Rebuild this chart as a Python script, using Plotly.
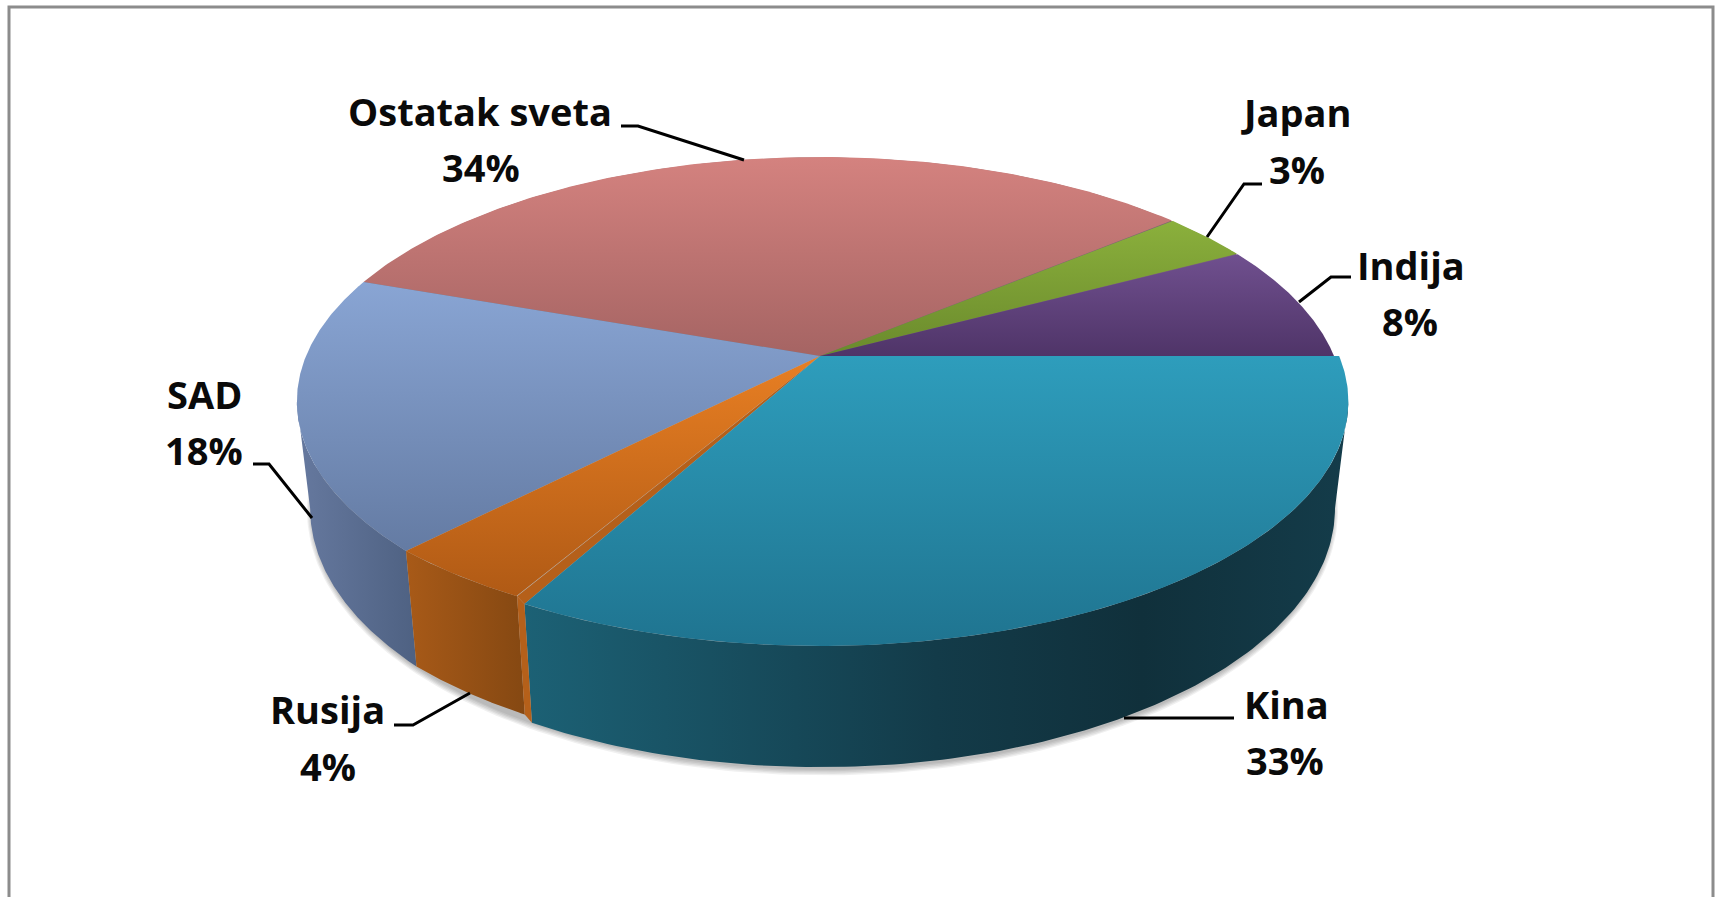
import numpy as np
import plotly.graph_objects as go

# ---- data ----
categories = ["Kina", "Rusija", "SAD", "Ostatak sveta", "Japan", "Indija"]
values = [32.9, 4.4, 18.1, 33.5, 3.3, 7.8]

# ---- colours ----
top_light = ["#2E9DBC", "#E87F23", "#89A5D4", "#D4827F", "#8BB03C", "#70508F"]
top_dark = ["#1F7490", "#B05A15", "#647BA3", "#A56463", "#6A8A2C", "#4F3468"]
wall_kina = [[0, "#1C6175"], [0.5, "#133B49"], [0.75, "#10303B"], [1, "#143C4A"]]
wall_rusija = [[0, "#A85A18"], [1, "#854812"]]
wall_sad = [[0, "#66799F"], [1, "#4E6182"]]
strip_colour = "#B5601A"
disc_under = "#7A6A70"

# ---- projection of the tilted disc onto the page ----
CX, CY_TOP, CY_BOT = 820, 356, 460
R_TOP, H_TOP = 514, 236
R_BOT, H_BOT = 501, 250
K = 0.186
KINA_SX = 1.01
RUSIJA_GAP = 0.45
RUSIJA_R = 0.987
WALL_LIMIT = np.degrees(np.arcsin(K)) / 3.6  # percent at which the rim turns away


def proj(p, plane="top", sx=1.0, sy=1.0):
    """Percent around the pie -> page position."""
    th = -np.asarray(p, float) * 3.6 * np.pi / 180
    s = 1 / (1 + K * np.sin(th))
    if plane == "top":
        return CX + R_TOP * sx * np.cos(th) * s, CY_TOP - H_TOP * sy * np.sin(th) * s
    return CX + R_BOT * sx * np.cos(th) * s, CY_BOT - H_BOT * sy * np.sin(th) * s


total = sum(values)
pct = [v / total * 100 for v in values]
ends = np.cumsum(pct)
starts = np.concatenate([[0], ends[:-1]])

fig = go.Figure()


def poly(x, y, orient, scale, name):
    x, y = np.asarray(x), np.asarray(y)
    rng = (y.min(), y.max()) if orient == "vertical" else (x.min(), x.max())
    fig.add_trace(go.Scatter(
        x=x, y=y, mode="lines", fill="toself", name=name, line=dict(width=0),
        fillgradient=dict(type=orient, colorscale=scale, start=rng[0], stop=rng[1]),
        hoverinfo="skip", showlegend=False))


def solid(x, y, colour, name):
    fig.add_trace(go.Scatter(
        x=x, y=y, mode="lines", fill="toself", fillcolor=colour, line=dict(width=0),
        name=name, hoverinfo="skip", showlegend=False))


# soft shadow under the pie
ps = np.linspace(0, 100, 361)
for i in range(1, 6):
    e = i * 1.1
    sh_x, sh_y = proj(ps, "bot", sx=1 + e / R_BOT, sy=1 + e / H_BOT)
    solid(sh_x + 2.5, sh_y + 1.5, "rgba(0,0,0,0.06)", "shadow")


def wall(p0, p1, scale, name, sx=1.0, sy=(1.0, 1.0)):
    ps = np.linspace(p0, p1, 120)
    sr = np.linspace(sy[0], sy[1], 120)
    tx, ty = proj(ps, "top", sx=sx * sr, sy=sr)
    bx, by = proj(ps, "bot", sx=sx * sr, sy=sr)
    poly(np.r_[tx, bx[::-1], tx[0]], np.r_[ty, by[::-1], ty[0]], "horizontal", scale, name)


wall(ends[1], 50 - WALL_LIMIT, wall_sad, "SAD wall")
wall(ends[0] + RUSIJA_GAP, ends[1], wall_rusija, "Rusija wall", sy=(RUSIJA_R, 1.0))
wall(WALL_LIMIT, ends[0], wall_kina, "Kina wall", sx=KINA_SX)

# thin cut face between Rusija and Kina on the wall
ktx, kty = proj(ends[0], "top", sx=KINA_SX)
kbx, kby = proj(ends[0], "bot", sx=KINA_SX)
rtx, rty = proj(ends[0] + RUSIJA_GAP, "top", sx=RUSIJA_R, sy=RUSIJA_R)
rbx, rby = proj(ends[0] + RUSIJA_GAP, "bot", sx=RUSIJA_R, sy=RUSIJA_R)
solid([rtx, ktx, kbx, rbx, rtx], [rty, kty, kby, rby, rty], strip_colour, "Rusija cut wall")

# dark base under the faces, so that no light seam shows between them
dx, dy = proj(np.linspace(ends[1] + 1, 100, 300), "top", sx=0.998, sy=0.998)
solid(np.r_[CX, dx, CX], np.r_[CY_TOP, dy, CY_TOP], disc_under, "base")


def top_face(i, p0, p1, sx=(1.0, 1.0), sy=(1.0, 1.0)):
    ps = np.linspace(p0, p1, 200)
    rx, ry = proj(ps, "top", sx=np.linspace(*sx, 200), sy=np.linspace(*sy, 200))
    poly(np.r_[CX, rx, CX], np.r_[CY_TOP, ry, CY_TOP], "vertical",
         [[0, top_light[i]], [1, top_dark[i]]], categories[i])


for i in [3, 4, 5, 2]:
    top_face(i, starts[i], ends[i])

# cut face of Rusija on the top, then Rusija and Kina
sx, sy = proj(np.array([ends[0], ends[0] + RUSIJA_GAP]), "top", sx=np.array([KINA_SX, RUSIJA_R]),
              sy=np.array([1.0, RUSIJA_R]))
solid(np.r_[CX, sx, CX], np.r_[CY_TOP, sy, CY_TOP], strip_colour, "Rusija cut top")
top_face(1, ends[0] + RUSIJA_GAP, ends[1], sx=(RUSIJA_R, 1.0), sy=(RUSIJA_R, 1.0))
top_face(0, starts[0], ends[0], sx=(KINA_SX, KINA_SX))

# ---- leader lines and labels ----
leaders = {
    "Kina": ([1124, 1234], [718, 718]),
    "Rusija": ([394, 413, 470], [725, 725, 693]),
    "SAD": ([253, 269, 312], [464, 464, 518]),
    "Ostatak sveta": ([621, 638, 744], [126, 126, 160]),
    "Japan": ([1262, 1244, 1207], [184, 184, 237]),
    "Indija": ([1351, 1331, 1299], [277, 277, 302]),
}
label_pos = {
    "Kina": (1286, 704, 1285, 760),
    "Rusija": (327, 709, 328, 766),
    "SAD": (204, 394, 204, 450),
    "Ostatak sveta": (480, 111, 481, 167),
    "Japan": (1296, 112, 1297, 169),
    "Indija": (1411, 265, 1410, 321),
}
FONT = dict(family="Open Sans", size=38, color="#0A0A0A", weight="bold")
annotations = []
for name, p in zip(categories, pct):
    lx, ly = leaders[name]
    fig.add_trace(go.Scatter(x=lx, y=ly, mode="lines", line=dict(color="#000000", width=3),
                             hoverinfo="skip", showlegend=False))
    nx, ny, vx, vy = label_pos[name]
    annotations.append(dict(x=nx, y=ny, text=name, showarrow=False, font=FONT,
                            xanchor="center", yanchor="middle"))
    annotations.append(dict(x=vx, y=vy, text=f"{round(p)}%", showarrow=False, font=FONT,
                            xanchor="center", yanchor="middle"))

fig.update_layout(
    width=1717, height=897, margin=dict(l=0, r=0, t=0, b=0),
    paper_bgcolor="#FFFFFF", plot_bgcolor="#FFFFFF", showlegend=False,
    xaxis=dict(range=[0, 1717], visible=False, fixedrange=True),
    yaxis=dict(range=[897, 0], visible=False, fixedrange=True),
    annotations=annotations,
    shapes=[dict(type="rect", xref="x", yref="y", x0=9, y0=7, x1=1713, y1=930,
                 line=dict(color="#8C8C8C", width=3), layer="below")],
)
fig.write_html("out.html", config=dict(displayModeBar=False),
               post_script="document.body.style.margin='0';document.body.style.overflow='hidden';")
